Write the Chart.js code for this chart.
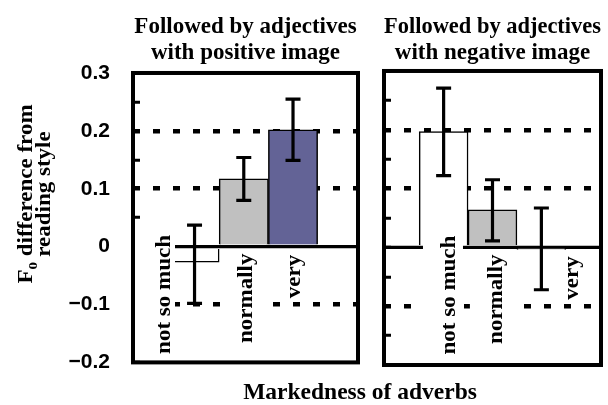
<!DOCTYPE html>
<html>
<head>
<meta charset="utf-8">
<script src="https://cdn.jsdelivr.net/npm/chart.js@4/dist/chart.umd.min.js"></script>
<style>
html, body { margin: 0; padding: 0; background: #fff; }
#wrap { position: relative; width: 608px; height: 405px; overflow: hidden; background: #fff; }
#wrap canvas { position: absolute; top: 0; }
#xtitle { position: absolute; left: 360px; top: 379px; transform: translateX(-50%);
  font: bold 23.5px/24px 'Liberation Serif', 'Times New Roman', serif; white-space: nowrap; color: #000; }
</style>
</head>
<body>
<div id="wrap">
  <canvas id="leftPanel" width="362" height="405" style="left:0px"></canvas>
  <canvas id="rightPanel" width="246" height="405" style="left:362px"></canvas>
  <div id="xtitle"></div>
</div>
<script>
// ---------- data ----------
const categories = ['not so much', 'normally', 'very'];

const positiveValues  = [-0.027, 0.117, 0.202];
const positiveErrLow  = [-0.098, 0.080, 0.149];
const positiveErrHigh = [ 0.037, 0.154, 0.255];

const negativeValues  = [ 0.197, 0.064, -0.002];
const negativeErrLow  = [ 0.122, 0.011, -0.072];
const negativeErrHigh = [ 0.271, 0.115,  0.067];

const positiveTitle = ['Followed by adjectives', 'with positive image'];
const negativeTitle = ['Followed by adjectives', 'with negative image'];

const yTickValues = [0.3, 0.2, 0.1, 0, -0.1, -0.2];
const yTickLabels = ['0.3', '0.2', '0.1', '0', '\u22120.1', '\u22120.2'];

const yTitleMain = 'F';
const yTitleSub = '0';
const yTitleRest = ' difference from';
const yTitleLine2 = 'reading style';
const xTitle = 'Markedness of adverbs';

// ---------- styling ----------
const SERIF = "'Liberation Serif', 'Times New Roman', serif";
const SANS = "'Liberation Sans', Arial, sans-serif";
const positiveColors = ['#ffffff', '#c0c0c0', '#636396'];
const negativeColors = ['#ffffff', '#c0c0c0', '#ffffff'];
const ROT_SQUEEZE = 0.9;

document.getElementById('xtitle').textContent = xTitle;

const isMajor = v => Math.abs(v * 10 - Math.round(v * 10)) < 1e-6;
const near = (a, b) => Math.abs(a - b) < 1e-6;

const decoPlugin = {
  id: 'deco',
  beforeDatasetsDraw(chart, args, o) {
    const { ctx, chartArea: a, scales: { y } } = chart;
    const y0 = y.getPixelForValue(0);
    ctx.save();
    ctx.strokeStyle = '#000';
    ctx.lineWidth = 3.2;
    ctx.beginPath();
    ctx.moveTo(a.left, y0);
    ctx.lineTo(a.right, y0);
    ctx.stroke();
    ctx.restore();
  },
  afterDatasetsDraw(chart, args, o) {
    const { ctx, scales: { x, y } } = chart;
    ctx.save();
    ctx.font = 'bold 23px ' + SERIF;
    categories.forEach((t, i) => {
      const cx = x.getPixelForValue(i + o.labelDx[i]);
      const top = y.getPixelForValue(o.labelTop[i]);
      const w = ctx.measureText(t).width;
      const bg = o.labelBg[i];
      ctx.save();
      ctx.translate(cx, top);
      ctx.rotate(-Math.PI / 2);
      ctx.fillStyle = '#fff';
      ctx.fillRect(-w - 2, bg[0], w + 4, bg[1] - bg[0]);
      ctx.scale(1, ROT_SQUEEZE);
      ctx.fillStyle = '#000';
      ctx.textAlign = 'right';
      ctx.textBaseline = 'middle';
      ctx.fillText(t, 0, 0);
      ctx.restore();
    });
    ctx.strokeStyle = '#000';
    ctx.lineWidth = 3.2;
    o.errLow.forEach((lo, i) => {
      const px = x.getPixelForValue(i);
      const yl = y.getPixelForValue(lo);
      const yh = y.getPixelForValue(o.errHigh[i]);
      ctx.beginPath();
      ctx.moveTo(px, yl); ctx.lineTo(px, yh);
      ctx.moveTo(px - 7.5, yl); ctx.lineTo(px + 7.5, yl);
      ctx.moveTo(px - 7.5, yh); ctx.lineTo(px + 7.5, yh);
      ctx.stroke();
    });
    ctx.restore();
  },
  afterDraw(chart, args, o) {
    const { ctx, chartArea: a } = chart;
    ctx.save();
    ctx.strokeStyle = '#000';
    ctx.lineWidth = 4;
    ctx.strokeRect(a.left, a.top, a.right - a.left, a.bottom - a.top);
    if (o.yTitle) {
      const t = o.yTitle;
      ctx.fillStyle = '#000';
      ctx.textBaseline = 'alphabetic';
      const big = 'bold 23px ' + SERIF, small = 'bold 15px ' + SERIF;
      ctx.font = big;
      const w1 = ctx.measureText(yTitleMain).width;
      const w3 = ctx.measureText(yTitleRest).width;
      ctx.font = small;
      const w2 = ctx.measureText(yTitleSub).width;
      const W = w1 + w2 + w3;
      ctx.save();
      ctx.translate(t.x1, t.cy);
      ctx.rotate(-Math.PI / 2);
      ctx.scale(1, ROT_SQUEEZE);
      ctx.textAlign = 'left';
      ctx.font = big;
      ctx.fillText(yTitleMain, -W / 2, 0);
      ctx.font = small;
      ctx.fillText(yTitleSub, -W / 2 + w1, 5);
      ctx.font = big;
      ctx.fillText(yTitleRest, -W / 2 + w1 + w2, 0);
      ctx.restore();
      ctx.save();
      ctx.translate(t.x2, t.cy);
      ctx.rotate(-Math.PI / 2);
      ctx.scale(1, ROT_SQUEEZE);
      ctx.textAlign = 'center';
      ctx.font = big;
      ctx.fillText(yTitleLine2, 0, 0);
      ctx.restore();
    }
    ctx.restore();
  }
};

function makePanel(id, values, errLow, errHigh, colors, title, cfg) {
  return new Chart(document.getElementById(id), {
    type: 'bar',
    data: {
      datasets: [{
        data: values.map((v, i) => ({ x: i, y: v })),
        backgroundColor: colors,
        borderColor: '#000',
        borderWidth: 1.5,
        barPercentage: 1,
        categoryPercentage: 1
      }]
    },
    options: {
      responsive: false,
      animation: false,
      devicePixelRatio: 1,
      events: [],
      layout: { padding: cfg.padding },
      scales: {
        x: {
          type: 'linear',
          display: false,
          offset: false,
          grid: { offset: false },
          min: cfg.xMin,
          max: cfg.xMax,
          afterBuildTicks: s => { s.ticks = categories.map((c, i) => ({ value: i })); }
        },
        y: {
          min: -0.2,
          max: 0.3,
          afterFit: s => { s.width = cfg.yWidth; },
          ticks: {
            display: cfg.showTicks,
            stepSize: 0.05,
            autoSkip: false,
            padding: 30,
            color: '#000',
            font: { family: SANS, size: 21, weight: 'bold' },
            callback: v => {
              const k = yTickValues.findIndex(t => near(t, v));
              return k >= 0 ? yTickLabels[k] : '';
            }
          },
          grid: {
            color: c => {
              const v = c.tick ? c.tick.value : 0;
              return (isMajor(v) && !near(v, 0) && !near(v, 0.3) && !near(v, -0.2)) ? '#000' : 'rgba(0,0,0,0)';
            },
            lineWidth: 4.5,
            drawTicks: true,
            tickLength: -7,
            tickWidth: 3,
            tickColor: '#000'
          },
          border: { display: false, dash: [7, 13] }
        }
      },
      plugins: {
        legend: { display: false },
        tooltip: { enabled: false },
        title: {
          display: true,
          text: title,
          fullSize: false,
          color: '#000',
          font: { family: SERIF, size: 23, weight: 'bold', lineHeight: 1.13 },
          padding: cfg.titlePadding
        },
        deco: {
          errLow: errLow,
          errHigh: errHigh,
          labelDx: cfg.labelDx,
          labelTop: cfg.labelTop,
          labelBg: cfg.labelBg,
          yTitle: cfg.yTitle
        }
      }
    },
    plugins: [decoPlugin]
  });
}

makePanel('leftPanel', positiveValues, positiveErrLow, positiveErrHigh, positiveColors, positiveTitle, {
  padding: { left: 0, right: 4, top: 0, bottom: 39 },
  titlePadding: { top: 14, bottom: 7 },
  xMin: -1.25, xMax: 3.32,
  yWidth: 133,
  showTicks: true,
  labelDx: [-0.6, 0.05, 0.03],
  labelTop: [0.02, -0.012, -0.014],
  labelBg: [[-32, 10], [-24, 16], [-24, 16]],
  yTitle: { x1: 32, x2: 50, cy: 194 }
});

makePanel('rightPanel', negativeValues, negativeErrLow, negativeErrHigh, negativeColors, negativeTitle, {
  padding: { left: 22, right: 7, top: 0, bottom: 40 },
  titlePadding: { top: 14, bottom: 5 },
  xMin: -1.22, xMax: 3.22,
  yWidth: 0,
  showTicks: false,
  labelDx: [0.13, 0.09, 0.64],
  labelTop: [0.02, -0.012, -0.015],
  labelBg: [[-27, 13], [-27, 20], [-20, 16]],
  yTitle: null
});
</script>
</body>
</html>
